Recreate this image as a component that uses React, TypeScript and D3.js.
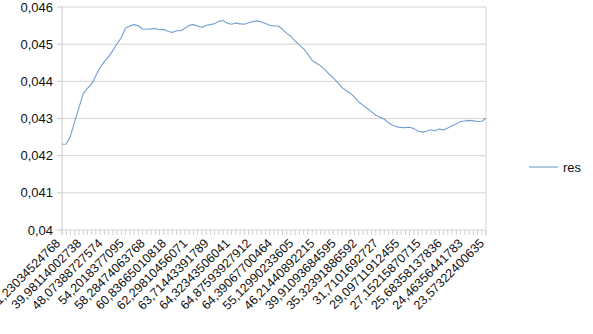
import React from "react";
import * as d3 from "d3";

const seriesName = "res";

const values: number[] = [
  0.042306, 0.042314, 0.042526, 0.042925, 0.043293, 0.04367, 0.043813, 0.043928, 0.044157, 0.044372,
  0.044536, 0.044665, 0.044832, 0.04501, 0.045177, 0.045435, 0.045486, 0.045526, 0.045494, 0.045408,
  0.045403, 0.045411, 0.045424, 0.045389, 0.045397, 0.045349, 0.045314, 0.04536, 0.045362, 0.04543,
  0.045505, 0.045526, 0.045489, 0.045451, 0.045508, 0.045526, 0.045553, 0.045618, 0.045634, 0.045561,
  0.045535, 0.045572, 0.045545, 0.045535, 0.045575, 0.045607, 0.045626, 0.045599, 0.045556, 0.04551,
  0.045489, 0.045489, 0.0454, 0.04529, 0.045206, 0.045083, 0.044975, 0.044875, 0.04473, 0.044563,
  0.044488, 0.044415, 0.044313, 0.044192, 0.04409, 0.043966, 0.043837, 0.043753, 0.043681, 0.043573,
  0.043444, 0.043352, 0.043269, 0.043178, 0.043089, 0.043035, 0.042981, 0.042884, 0.042817, 0.042774,
  0.042761, 0.042755, 0.042763, 0.042728, 0.042656, 0.042634, 0.042656, 0.042696, 0.042672, 0.042718,
  0.042691, 0.042744, 0.042804, 0.042855, 0.042919, 0.042933, 0.042949, 0.042935, 0.042919, 0.042925,
  0.043008,
];

// labels shown every 5th category
const shownLabels: string[] = [
  "31,23034524768", "39,98114002738", "48,07388727574", "54,2018377095", "58,28474063768",
  "60,83665010818", "62,29810456071", "63,71443391789", "64,32343506041", "64,87593927912",
  "64,39067700464", "55,12990233605", "46,21440892215", "39,91093684595", "35,32391886592",
  "31,7101692727", "29,09711912455", "27,15215870715", "25,68358137836", "24,46356441783",
  "23,57322400635",
];
const labelStep = 5;

const yTicks: number[] = [0.04, 0.041, 0.042, 0.043, 0.044, 0.045, 0.046];

const W = 593;
const H = 334;
const plot = { left: 62, right: 486, top: 7, bottom: 230 };
const font = "'Liberation Sans', Arial, sans-serif";

export default function App() {
  const x = d3.scaleLinear().domain([0, values.length - 1]).range([plot.left, plot.right]);
  const y = d3.scaleLinear().domain([0.04, 0.046]).range([plot.bottom, plot.top]);
  const line = d3
    .line<number>()
    .x((_, i) => x(i))
    .y((d) => y(d));
  const fmt = (v: number) => d3.format(".3~f")(v).replace(".", ",");
  const idx = d3.range(values.length);

  return (
    <svg
      width={W}
      height={H}
      style={{ position: "absolute", left: 0, top: 0, background: "#fff" }}
      fontFamily={font}
    >
      <rect x={0} y={0} width={W} height={H} fill="#fff" />
      {yTicks.map((t) => (
        <g key={t}>
          <line x1={plot.left} x2={plot.right} y1={y(t)} y2={y(t)} stroke="#d4d4d4" strokeWidth={1} />
          <line x1={plot.left - 5} x2={plot.left} y1={y(t)} y2={y(t)} stroke="#c8c8c8" strokeWidth={1} />
          <text x={plot.left - 9} y={y(t) + 4.5} textAnchor="end" fontSize={13} fill="#111">
            {fmt(t)}
          </text>
        </g>
      ))}
      <line x1={plot.left} x2={plot.left} y1={plot.top} y2={plot.bottom + 5} stroke="#c8c8c8" />
      <line x1={plot.right} x2={plot.right} y1={plot.top} y2={plot.bottom + 5} stroke="#d4d4d4" />
      {idx.map((i) => (
        <line key={i} x1={x(i)} x2={x(i)} y1={plot.bottom} y2={plot.bottom + 5} stroke="#cfcfcf" />
      ))}
      <path d={line(values) || ""} fill="none" stroke="#729fcf" strokeWidth={1.1} strokeLinejoin="round" />
      {shownLabels.map((lab, k) => {
        const xi = x(k * labelStep) - 1;
        const yi = 244;
        return (
          <text
            key={k}
            x={xi}
            y={yi}
            textAnchor="end"
            fontSize={12.5}
            fill="#111"
            transform={`rotate(-45, ${xi}, ${yi})`}
          >
            {lab}
          </text>
        );
      })}
      <line x1={529} x2={558} y1={167} y2={167} stroke="#729fcf" strokeWidth={1.1} />
      <text x={563} y={171.5} fontSize={13} fill="#111">
        {seriesName}
      </text>
    </svg>
  );
}
